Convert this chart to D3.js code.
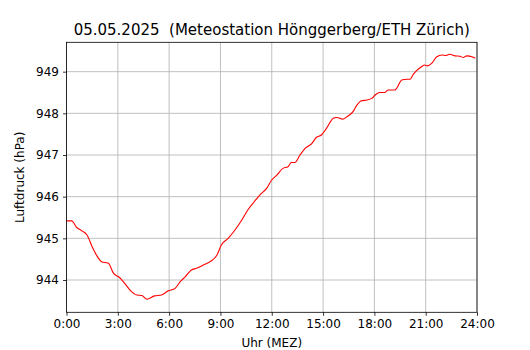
<!DOCTYPE html>
<html><head><meta charset="utf-8">
<script src="https://cdn.jsdelivr.net/npm/d3@7"></script>
<style>body{margin:0;background:#fff}svg{display:block}text{font-family:"DejaVu Sans",sans-serif;fill:#000}</style>
</head><body>
<svg id="c" width="530" height="350"></svg>
<script>
const title = "05.05.2025  (Meteostation Hönggerberg/ETH Zürich)";
const xLabel = "Uhr (MEZ)";
const yLabel = "Luftdruck (hPa)";
const xTickHours = [0,3,6,9,12,15,18,21,24];
const xTickLabels = ["0:00","3:00","6:00","9:00","12:00","15:00","18:00","21:00","24:00"];
const yTicks = [944,945,946,947,948,949];
const hours = [0.0,0.3,0.6,0.9,1.2,1.5,1.75,2.05,2.45,2.75,3.1,3.4,3.8,4.1,4.4,4.7,5.15,5.55,5.95,6.35,6.65,6.95,7.3,7.6,8.0,8.4,8.8,9.05,9.45,9.85,10.25,10.6,10.9,11.3,11.7,12.0,12.3,12.65,12.95,13.15,13.35,13.65,13.95,14.35,14.6,14.9,15.2,15.6,15.8,16.15,16.4,16.55,16.75,16.95,17.25,17.55,17.85,18.05,18.3,18.6,18.8,19.2,19.3,19.6,19.9,20.1,20.25,20.45,20.75,20.95,21.1,21.35,21.65,21.95,22.2,22.4,22.7,23.0,23.2,23.4,23.7,23.9];
const pressure = [945.42,945.42,945.26,945.18,945.08,944.80,944.60,944.44,944.40,944.16,944.06,943.92,943.72,943.64,943.63,943.54,943.62,943.64,943.74,943.80,943.96,944.08,944.24,944.28,944.36,944.44,944.60,944.84,945.00,945.20,945.44,945.68,945.84,946.04,946.20,946.40,946.52,946.68,946.72,946.82,946.82,947.00,947.16,947.28,947.42,947.48,947.64,947.88,947.90,947.86,947.92,947.96,948.04,948.18,948.30,948.32,948.36,948.44,948.50,948.50,948.56,948.56,948.60,948.80,948.82,948.82,948.92,949.02,949.12,949.16,949.14,949.20,949.36,949.40,949.39,949.42,949.38,949.37,949.34,949.38,949.36,949.32];

const svg = d3.select("#c");
const L = 66.5, R = 477, T = 42.3, B = 312.3;
const x = d3.scaleLinear().domain([0,24]).range([L,R]);
const y = d3.scaleLinear().domain([943.225,949.705]).range([B,T]);

// grid
const g = svg.append("g");
g.selectAll(".gx").data(xTickHours).join("line")
  .attr("x1",d=>x(d)).attr("x2",d=>x(d)).attr("y1",T).attr("y2",B)
  .attr("stroke","#b0b0b0").attr("stroke-width",0.8);
g.selectAll(".gy").data(yTicks).join("line")
  .attr("x1",L).attr("x2",R).attr("y1",d=>y(d)).attr("y2",d=>y(d))
  .attr("stroke","#b0b0b0").attr("stroke-width",0.8);

// line
const data = hours.map((h,i)=>[h,pressure[i]]);
svg.append("path").datum(data)
  .attr("fill","none").attr("stroke","#ff0000").attr("stroke-width",1.1)
  .attr("stroke-linejoin","round")
  .attr("d", d3.line().x(d=>x(d[0])).y(d=>y(d[1])).curve(d3.curveMonotoneX));

// axes
const xAxis = d3.axisBottom(x).tickValues(xTickHours).tickFormat((d,i)=>xTickLabels[i]).tickSize(3.5).tickPadding(4);
const yAxis = d3.axisLeft(y).tickValues(yTicks).tickFormat(d3.format("d")).tickSize(3.5).tickPadding(4);
const ax = svg.append("g").attr("transform",`translate(0,${B})`).call(xAxis);
const ay = svg.append("g").attr("transform",`translate(${L},0)`).call(yAxis);
[ax,ay].forEach(a=>{
  a.select(".domain").remove();
  a.selectAll(".tick line").attr("stroke","#000").attr("stroke-width",0.8);
  a.selectAll(".tick text").attr("font-family","DejaVu Sans").attr("font-size","12px").attr("fill","#000");
});

// frame
svg.append("rect").attr("x",L).attr("y",T).attr("width",R-L).attr("height",B-T)
  .attr("fill","none").attr("stroke","#000").attr("stroke-width",0.8);

// labels
svg.append("text").attr("x",(L+R)/2).attr("y",34.5).attr("text-anchor","middle")
  .attr("font-size","15px").style("white-space","pre").attr("xml:space","preserve").text(title);
svg.append("text").attr("x",(L+R)/2).attr("y",347).attr("text-anchor","middle")
  .attr("font-size","12px").text(xLabel);
svg.append("text").attr("transform",`translate(24,${(T+B)/2}) rotate(-90)`).attr("text-anchor","middle")
  .attr("font-size","12px").text(yLabel);
</script>
</body></html>
